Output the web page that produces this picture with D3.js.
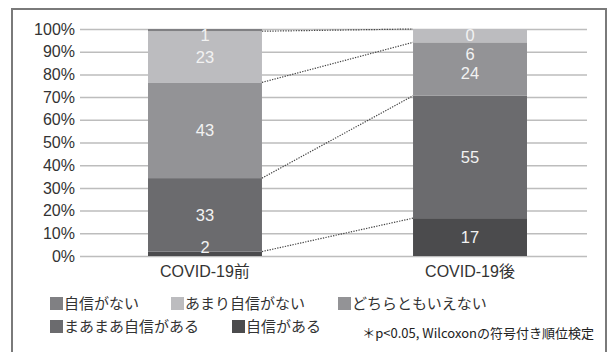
<!DOCTYPE html>
<html><head><meta charset="utf-8">
<script src="https://cdn.jsdelivr.net/npm/d3@7"></script>
<style>
html,body{margin:0;padding:0;background:#fff;}
svg{display:block;font-family:"Liberation Sans",Arial,"Noto Sans CJK JP",sans-serif;}
</style></head>
<body>
<svg id="chart" width="609" height="352"></svg>
<script>
// ---- data ----
const categories = ["COVID-19前", "COVID-19後"];
const seriesNames = ["自信がない", "あまり自信がない", "どちらともいえない", "まあまあ自信がある", "自信がある"];
const jishinGaNai = [1, 0];
const amariJishinGaNai = [23, 6];
const dochiraTomo = [43, 24];
const maamaaJishin = [33, 55];
const jishinGaAru = [2, 17];
const seriesColors = ["#808083", "#bcbcbf", "#939396", "#6b6b6e", "#4b4b4d"];
const yTickValues = [0, 0.1, 0.2, 0.3, 0.4, 0.5, 0.6, 0.7, 0.8, 0.9, 1.0];
const footnote = "＊p<0.05, Wilcoxonの符号付き順位検定";

const valuesBySeries = [jishinGaNai, amariJishinGaNai, dochiraTomo, maamaaJishin, jishinGaAru];
const table = categories.map((c, i) => {
  const row = {category: c};
  seriesNames.forEach((s, j) => row[s] = valuesBySeries[j][i]);
  return row;
});

const svg = d3.select("#chart");
svg.append("rect").attr("width", 609).attr("height", 352).attr("fill", "#fff");
// outer frame
svg.append("rect").attr("x", 12).attr("y", 9).attr("width", 594).attr("height", 380)
  .attr("fill", "none").attr("stroke", "#7a7a7a").attr("stroke-width", 2);

const plotL = 80, plotR = 587;
const y = d3.scaleLinear().domain([0, 1]).range([256, 29]);
const x = d3.scaleBand().domain(categories).range([148, 527]).paddingInner(0.57).paddingOuter(0);

// gridlines + y labels
const yAxis = d3.axisLeft(y).tickValues(yTickValues).tickFormat(d3.format(".0%"))
  .tickSizeInner(-(plotR - plotL)).tickSizeOuter(0).tickPadding(5);
const gy = svg.append("g").attr("transform", `translate(${plotL},0)`).call(yAxis);
gy.select(".domain").remove();
gy.selectAll(".tick line").attr("stroke", "#bdbdbd").attr("stroke-width", 1.5);
gy.selectAll(".tick text").attr("fill", "#333").attr("font-size", 16)
  .attr("font-family", "'Liberation Sans',Arial,sans-serif");

// stack (bottom: 自信がある)
const keys = seriesNames.slice().reverse();
const stack = d3.stack().keys(keys).offset(d3.stackOffsetExpand);
const layers = stack(table);
const colorOf = d3.scaleOrdinal().domain(seriesNames).range(seriesColors);

const gBars = svg.append("g");
layers.forEach(layer => {
  gBars.selectAll(null).data(layer).enter().append("rect")
    .attr("x", d => x(d.data.category))
    .attr("width", x.bandwidth())
    .attr("y", d => y(d[1]))
    .attr("height", d => y(d[0]) - y(d[1]))
    .attr("fill", colorOf(layer.key));
});

// dotted connectors between tops of series (except topmost)
const c0 = categories[0], c1 = categories[1];
layers.slice(0, layers.length - 1).forEach(layer => {
  svg.append("line")
    .attr("x1", x(c0) + x.bandwidth()).attr("y1", y(layer[0][1]))
    .attr("x2", x(c1)).attr("y2", y(layer[1][1]))
    .attr("stroke", "#444").attr("stroke-width", 1.2).attr("stroke-dasharray", "1.3,1.3");
});

// value labels
categories.forEach((c, ci) => {
  const items = seriesNames.map(s => {
    const layer = layers.find(l => l.key === s);
    const d = layer[ci];
    return {v: table[ci][s], yc: (y(d[0]) + y(d[1])) / 2};
  });
  let prev = -Infinity;
  items.forEach(it => {
    let yy = Math.max(it.yc, y(1) + 6);
    yy = Math.min(yy, y(0) - 9);
    yy = Math.max(yy, prev + 19);
    prev = yy;
    svg.append("text").attr("x", x(c) + x.bandwidth() / 2).attr("y", yy)
      .attr("dy", "0.36em").attr("text-anchor", "middle")
      .attr("font-size", 16.5).attr("fill", "#f2f2f2").text(it.v);
  });
});

// x labels
svg.selectAll(null).data(categories).enter().append("text")
  .attr("x", d => x(d) + x.bandwidth() / 2).attr("y", 277)
  .attr("text-anchor", "middle").attr("font-size", 16).attr("fill", "#333")
  .text(d => d);

// legend
const legendPos = [[50, 297], [171, 297], [338, 297], [50, 320], [232, 320]];
seriesNames.forEach((s, i) => {
  const [lx, ly] = legendPos[i];
  svg.append("rect").attr("x", lx).attr("y", ly).attr("width", 13).attr("height", 13)
    .attr("fill", colorOf(s));
  svg.append("text").attr("x", lx + 14).attr("y", ly + 6.5).attr("dy", "0.36em")
    .attr("font-size", 15).attr("fill", "#333")
    .attr("font-family", "'Noto Sans CJK JP',sans-serif").text(s);
});

svg.append("text").attr("x", 594).attr("y", 333).attr("dy", "0.36em")
  .attr("text-anchor", "end").attr("font-size", 13).attr("fill", "#222")
  .attr("font-family", "'Noto Sans CJK JP',sans-serif").text(footnote);
</script>
</body></html>
